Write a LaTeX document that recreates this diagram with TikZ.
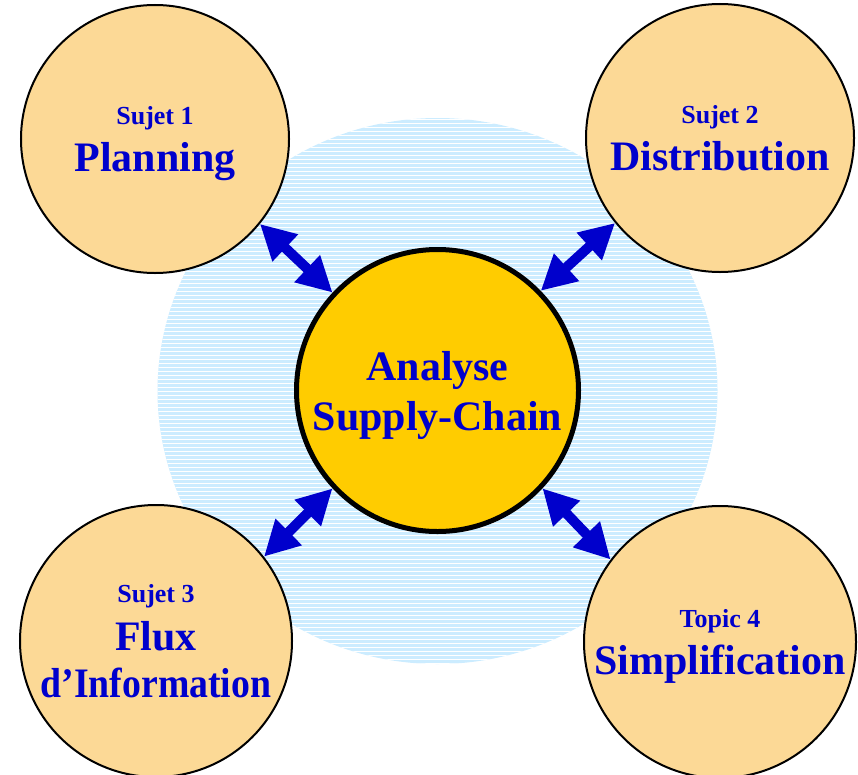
\documentclass[tikz,border=0pt]{standalone}
\usepackage{fontspec}
\setmainfont{Liberation Serif}
\usetikzlibrary{arrows.meta}
\usetikzlibrary{positioning}
\definecolor{peach}{RGB}{252,217,150}
\definecolor{gold}{RGB}{255,204,0}
\definecolor{ink}{RGB}{0,0,204}
\definecolor{sky}{RGB}{204,236,255}
\newcommand{\subj}[1]{{\fontsize{22.2pt}{40.5pt}\selectfont #1}}

\begin{document}
\begin{tikzpicture}[x=0.3mm,y=-0.3mm,thick]
\tikzstyle{topic}=[draw,fill=peach,circle,minimum size=80.4mm,inner sep=0pt,line width=0.6mm,text=ink,align=center,text depth=0pt,font=\fontsize{35.8pt}{40.5pt}\bfseries\selectfont]
\tikzstyle{hub}=[draw,fill=gold,circle,minimum size=84.6mm,inner sep=0pt,line width=1.5mm,text=ink,align=center,text depth=0pt,font=\fontsize{35.8pt}{42.7pt}\bfseries\selectfont]
\tikzstyle{link}=[{Triangle[length=10.5mm,width=10.5mm]}-{Triangle[length=10.5mm,width=10.5mm]},draw=ink,line width=3mm]
\useasboundingbox (0,0) rectangle (858,774);
\begin{scope}
  \clip (437.5,391) ellipse [x radius=280, y radius=273];
  \fill [sky] (150,110) rectangle (730,670);
  \foreach \y in {119,123,...,667}
    \draw [white,line width=0.3mm] (150,\y) -- (730,\y);
\end{scope}
\node [hub] (hub) at (437.5,390.5) {Analyse\\Supply-Chain};
\node [topic] (s1) at (155,139) {\subj{Sujet 1}\\Planning};
\node [topic] (s2) at (720,138) {\subj{Sujet 2}\\Distribution};
\node [topic,minimum size=81.6mm] (s3) at (156,641) {\subj{Sujet 3}\\Flux\\\scalebox{0.9}[1]{d'Information}};
\node [topic,minimum size=81.6mm] (s4) at (720,642) {\subj{Topic 4}\\Simplification};
\draw [link] (hub.137) -- (s1.-39);
\draw [link] (hub.44) -- (s2.-141);
\draw [link] (hub.-137) -- (s3.38);
\draw [link] (hub.-43) -- (s4.143);
\end{tikzpicture}
\end{document}
